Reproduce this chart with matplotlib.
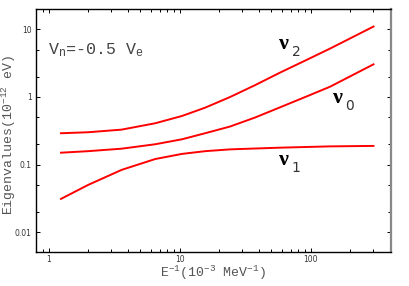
import matplotlib
matplotlib.use("Agg")
import matplotlib.pyplot as plt
from matplotlib.ticker import LogLocator, NullFormatter, FixedLocator, FixedFormatter

plt.rcParams["mathtext.fontset"] = "custom"
plt.rcParams["mathtext.rm"] = "Liberation Mono"
plt.rcParams["mathtext.it"] = "Liberation Mono"

# values (E^-1 in 10^-3 MeV^-1, eigenvalues in 10^-12 eV)
inv_e = [1.24, 2.0, 3.6, 6.5, 10.4, 15.6, 24.2, 37.6, 58.3, 90.6, 140, 300]
nu2 = [0.291, 0.301, 0.329, 0.409, 0.524, 0.695, 1.0, 1.50, 2.30, 3.46, 5.20, 11.0]
nu0 = [0.150, 0.158, 0.172, 0.200, 0.237, 0.291, 0.366, 0.498, 0.705, 1.0, 1.42, 3.04]
nu1 = [0.0311, 0.0501, 0.0836, 0.121, 0.144, 0.158, 0.168, 0.173, 0.178, 0.182, 0.186, 0.189]

xticks = [1, 10, 100]
xticklabels = ["1", "10", "100"]
yticks = [0.01, 0.1, 1, 10]
yticklabels = ["0.01", "0.1", "1", "10"]

fig = plt.figure(figsize=(4.09, 2.86), dpi=100)
ax = fig.add_axes([36 / 409, 1 - 252 / 286, (391 - 36) / 409, (252 - 9) / 286])

for vals in (nu2, nu0, nu1):
    ax.plot(inv_e, vals, color="red", lw=1.4)

ax.set_xscale("log")
ax.set_yscale("log")
ax.set_xlim(0.8, 408)
ax.set_ylim(0.0051, 20)

ax.xaxis.set_major_locator(FixedLocator(xticks))
ax.xaxis.set_major_formatter(FixedFormatter(xticklabels))
ax.xaxis.set_minor_locator(LogLocator(base=10, subs=range(2, 10)))
ax.xaxis.set_minor_formatter(NullFormatter())
ax.yaxis.set_major_locator(FixedLocator(yticks))
ax.yaxis.set_major_formatter(FixedFormatter(yticklabels))
ax.yaxis.set_minor_locator(LogLocator(base=10, subs=[2, 5]))
ax.yaxis.set_minor_formatter(NullFormatter())

ax.tick_params(which="both", direction="in", top=True, right=True,
               labelsize=5.5, labelcolor="#333333", width=0.7)
ax.tick_params(which="major", length=3, pad=3)
ax.tick_params(axis="x", which="major", pad=2)
ax.tick_params(which="minor", length=2)

for s in ("left", "bottom", "top"):
    ax.spines[s].set_linewidth(1.0)
ax.spines["right"].set_color("#888888")
ax.spines["right"].set_linewidth(1.6)

mono = "Liberation Mono"
ax.set_xlabel("E$^{-1}$(10$^{-3}$ MeV$^{-1}$)", fontsize=9.5, family=mono,
              color="#555555")
ax.xaxis.set_label_coords(0.5, -0.05)
ax.set_ylabel("Eigenvalues(10$^{-12}$ eV)", fontsize=9.5, family=mono,
              color="#555555")
ax.yaxis.set_label_coords(-0.052, 0.48)

ax.text(0.033, 0.83, "V$_n$=-0.5 V$_e$", transform=ax.transAxes,
        fontsize=12, family=mono, color="#444444", va="center")

labels = [("2", 284, 44), ("0", 338, 98), ("1", 284, 160)]
for sub, px, py in labels:
    fig.text(px / 409, 1 - py / 286, "\u03bd", fontsize=16, family="Liberation Serif",
             weight="bold", color="black", ha="center", va="center")
    fig.text((px + 12) / 409, 1 - (py + 8) / 286, sub, fontsize=10,
             family="DejaVu Sans", color="#333333", ha="center", va="center")

fig.savefig("out.png", dpi=100)
